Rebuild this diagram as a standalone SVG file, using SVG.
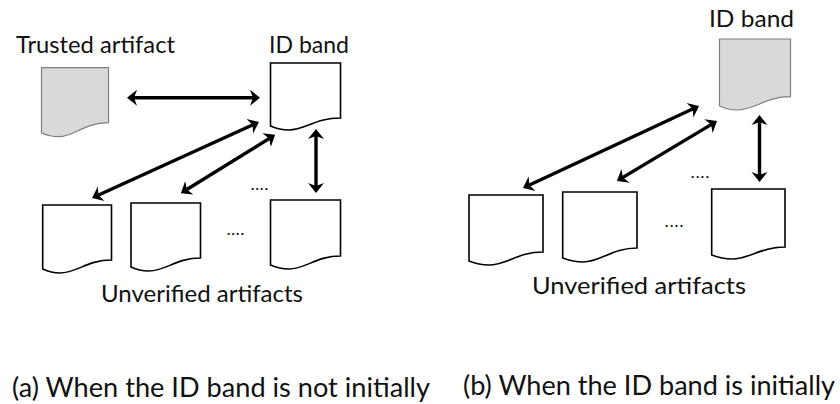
<svg xmlns="http://www.w3.org/2000/svg" width="840" height="404" viewBox="0 0 840 404">
<style>
text{font-family:"Lato","Open Sans","Liberation Sans",sans-serif;font-size:23px;fill:#111}
.doc{fill:#fff;stroke:#000;stroke-width:1.6}
.gray{fill:#d9d9d9;stroke:#7f7f7f;stroke-width:1.2}
.c{fill:none;stroke:#000;stroke-width:3.4;marker-start:url(#h);marker-end:url(#h)}
.dots{font-size:14px;font-weight:700}
.cap{font-size:26px}
</style>
<defs>
<marker id="h" markerUnits="userSpaceOnUse" markerWidth="10" markerHeight="17" refX="4" refY="8.500" orient="auto-start-reverse" viewBox="0 0 10 17">
<path d="M10 8.500L0 .5 3 8.500 0 16.500Z" fill="#000"/>
</marker>
</defs>
<g id="connectors">
<path class="c" d="M133 97.700H254"/>
<path class="c" d="M97.500 195.500L253.500 124.500"/>
<path class="c" d="M186 190L270 138"/>
<path class="c" d="M316 135V187"/>
<path class="c" d="M528.400 185.500L693.600 108.500"/>
<path class="c" d="M622.100 177.900L711.900 124.100"/>
<path class="c" d="M759.500 121V176"/>
</g>
<g id="trusted-artifact"><path class="gray" d="M41.500 67.700H108.500V122.700C84 122.700 74 136.700 59 136.700C51 136.700 46 135 41.500 133Z"/><text x="16" y="53" textLength="159" lengthAdjust="spacingAndGlyphs">Trusted artifact</text></g>
<g id="id-band-a"><path class="doc" d="M270.500 63H340.500V118C315 118 305 130 289 130C281 130 275 128 270.500 126Z"/><text x="269" y="53" textLength="80" lengthAdjust="spacingAndGlyphs">ID band</text></g>
<g id="unverified-a1"><path class="doc" d="M42.700 205H111.500V260C87 260 77 273 60 273C53 273 47 271 42.700 269Z"/></g>
<g id="unverified-a2"><path class="doc" d="M131 203H200.500V258C176 258 166 271 149 271C142 271 135 269 131 267Z"/></g>
<g id="unverified-a3"><path class="doc" d="M270.500 200H340.500V256C316 256 306 269 289 269C281 269 275 267 270.500 265Z"/></g>
<g id="label-a"><text x="101" y="302" textLength="202" lengthAdjust="spacingAndGlyphs">Unverified artifacts</text><text class="dots" x="251" y="190" textLength="17">....</text><text class="dots" x="227" y="235" textLength="17">....</text></g>
<g id="id-band-b"><path class="gray" d="M719.500 39H790.500V96.700C765 96.700 755 110 737 110C730 110 724 108 719.500 106Z"/><text x="709" y="27" textLength="85" lengthAdjust="spacingAndGlyphs">ID band</text></g>
<g id="unverified-b1"><path class="doc" d="M469 195H543V252C518 252 507 265 489 265C481 265 474 263 469 261Z"/></g>
<g id="unverified-b2"><path class="doc" d="M562.700 192H637V248C612 248 601 262 583 262C575 262 568 260 562.700 258Z"/></g>
<g id="unverified-b3"><path class="doc" d="M711.700 189H785V247C760 247 750 259 732 259C724 259 717 257 711.700 255Z"/></g>
<g id="label-b"><text x="532" y="294" textLength="214" lengthAdjust="spacingAndGlyphs">Unverified artifacts</text><text class="dots" x="691" y="178" textLength="18">....</text><text class="dots" x="665" y="227" textLength="18">....</text></g>
<g id="captions"><text class="cap" x="12" y="397" textLength="418" lengthAdjust="spacingAndGlyphs">(a) When the ID band is not initially</text><text class="cap" x="463" y="395" textLength="372" lengthAdjust="spacingAndGlyphs">(b) When the ID band is initially</text></g>
</svg>
